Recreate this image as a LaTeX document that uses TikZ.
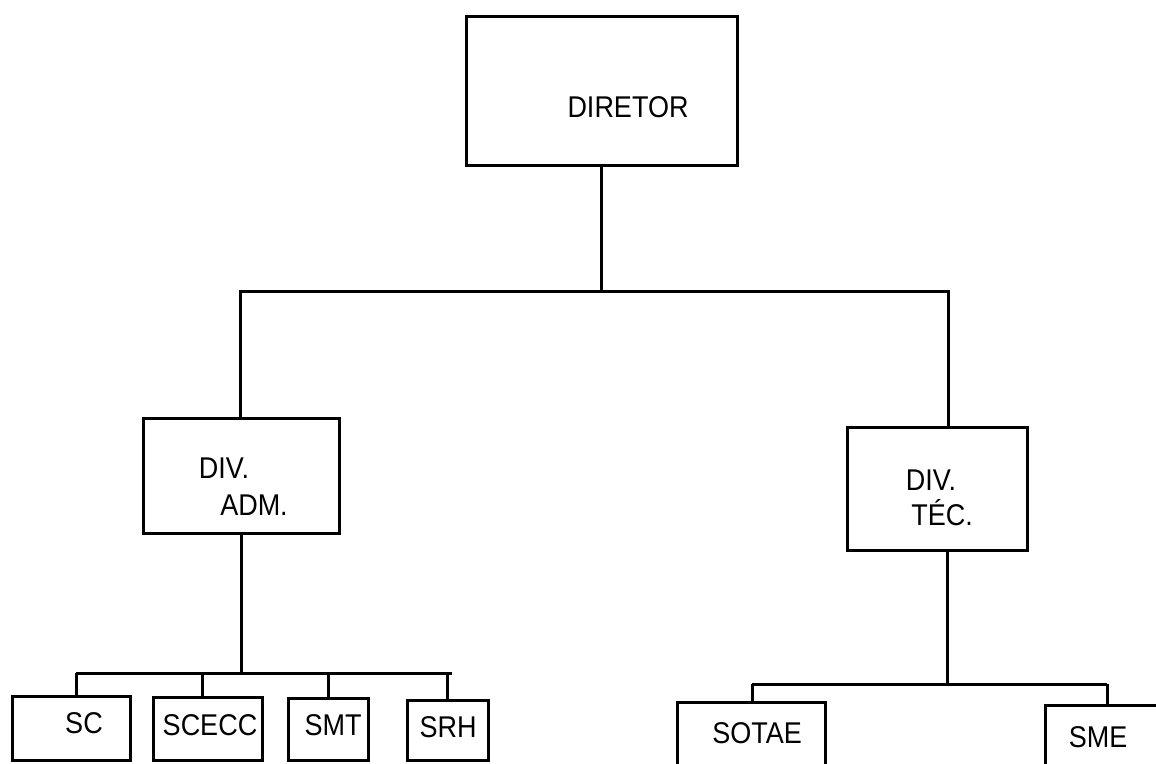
\documentclass[tikz,border=0pt]{standalone}
\usepackage{fontspec}
\setmainfont[FakeStretch = 0.9]{Liberation Sans}

\begin{document}
\begin{tikzpicture}[x = 1pt, y = -1pt, line width = 3pt,
    box/.style = {draw, rectangle, inner sep = 0pt, outer sep = 0pt},
    lbl/.style = {anchor = base, inner sep = 0pt, font = \fontsize{30}{32}\selectfont}]
    \clip (0,0) rectangle (1156,763);

    % boxes
    \node[box, minimum width = 271pt, minimum height = 149pt] (dir) at (601.5,90.5) {};
    \node[box, minimum width = 196pt, minimum height = 115pt] (adm) at (241,475.5) {};
    \node[box, minimum width = 180pt, minimum height = 123pt] (tec) at (937,488.5) {};

    \node[box, minimum width = 118pt, minimum height = 64pt] (sc) at (71,728) {};
    \node[box, minimum width = 109pt, minimum height = 63pt] (scecc) at (207.5,728.5) {};
    \node[box, minimum width = 80pt, minimum height = 62pt] (smt) at (328,729) {};
    \node[box, minimum width = 81pt, minimum height = 60pt] (srh) at (447.5,730) {};
    \node[box, minimum width = 148pt, minimum height = 80pt] (sotae) at (751,742) {};
    \node[box, minimum width = 140pt, minimum height = 90pt] (sme) at (1115,750) {};

    % texts
    \node[lbl] (dirtxt) at (628,117) {DIRETOR};
    \node[lbl] (admtxt) at (224,478) {DIV.};
    \node[lbl] (admtxtb) at (254,515) {ADM.};
    \node[lbl] (tectxt) at (931,490) {DIV.};
    \node[lbl] (tectxtb) at (942,525) {TÉC.};
    \node[lbl] (sctxt) at (84,733) {SC};
    \node[lbl] (sceccxt) at (210,735) {SCECC};
    \node[lbl] (smttxt) at (333,735) {SMT};
    \node[lbl] (srhtxt) at (448,737) {SRH};
    \node[lbl] (sotaetxt) at (757,743) {SOTAE};
    \node[lbl] (smetxt) at (1098,747) {SME};

    % top level
    \coordinate (busL) at (240,291);
    \coordinate (busR) at (948,291);
    \draw (dir.south) -- (dir.south |- busL);
    \draw (busL |- adm.north) -- (busL) -- (busR) -- (busR |- tec.north);

    % administrative division
    \coordinate (admL) at (76,673);
    \coordinate (admR) at (452,673);
    \draw (adm.south) -- (adm.south |- admL);
    \draw (admL) -- (admR);
    \foreach \b/\x in {sc/76, scecc/202, smt/328, srh/447} {
        \coordinate (t\b) at (\x,673);
        \draw (t\b) -- (t\b |- \b.north);
    }

    % technical division
    \coordinate (tecL) at (752,684);
    \coordinate (tecR) at (1107,684);
    \coordinate (tecM) at (947,684);
    \draw (tecM |- tec.south) -- (tecM);
    \draw (tecL) -- (tecR);
    \draw (tecL) -- (tecL |- sotae.north);
    \draw (tecR) -- (tecR |- sme.north);
\end{tikzpicture}
\end{document}
